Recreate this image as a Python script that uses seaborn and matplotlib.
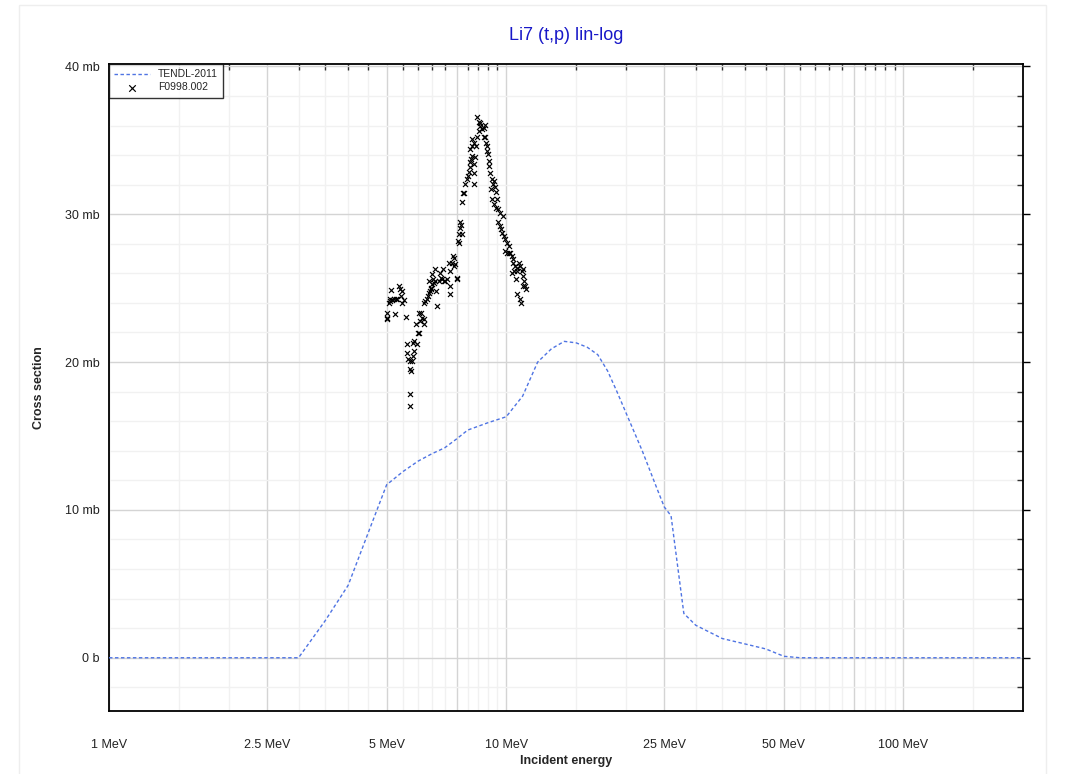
import numpy as np
import pandas as pd
import matplotlib
matplotlib.use("Agg")
import matplotlib.pyplot as plt
import matplotlib.ticker as mticker
from matplotlib.patches import Rectangle
import seaborn as sns

# ---------------- data ----------------
tendl_energy = [1, 1.5, 2, 2.5, 3, 3.5, 4, 4.5, 5, 5.5, 6, 6.5, 7, 7.5, 8, 9, 10,
                11, 12, 13, 14, 15, 16, 17, 18, 19, 20, 22, 24, 25, 26, 28, 30,
                35, 40, 45, 50, 55, 60, 70, 80, 90, 100, 150, 200]
tendl_xs = [0, 0, 0, 0, 0, 2.5, 4.9, 8.5, 11.7, 12.6, 13.3, 13.8, 14.2, 14.8, 15.4,
            15.9, 16.3, 17.7, 20.0, 20.9, 21.4, 21.3, 21.0, 20.5, 19.4, 18.0, 16.6,
            14.0, 11.4, 10.2, 9.6, 3.0, 2.2, 1.3, 0.93, 0.6, 0.1, 0, 0, 0, 0, 0, 0,
            0, 0]

exfor_energy = [
    5.00, 5.01, 5.02, 5.13, 5.09, 5.16, 5.22, 5.27, 5.32, 5.24, 5.37, 5.40, 5.42,
    5.47, 5.53, 5.46, 5.58, 5.10, 5.07,
    5.63, 5.63, 5.66, 5.71, 5.77, 5.74, 5.79, 5.82, 5.85, 5.82, 5.87, 5.97, 6.00,
    6.04, 5.93, 6.08, 6.03, 6.11, 6.14, 6.20, 6.22, 5.71, 5.74,
    6.20, 6.26, 6.32, 6.35, 6.38, 6.42, 6.45, 6.51, 6.57, 6.55, 6.63, 6.67, 6.38,
    6.47, 6.51, 6.63, 6.70, 6.80, 6.77, 6.86, 6.90, 6.96, 7.03, 6.93, 7.10, 7.17,
    7.24, 7.24, 7.24, 7.31, 7.38, 7.38, 7.45, 7.50, 7.50, 7.35, 7.55, 7.60, 7.60,
    7.67, 7.67, 7.74, 7.70,
    7.74, 7.79, 7.85, 7.89, 7.97, 8.02, 8.05, 8.09, 8.12, 8.15, 8.20, 8.12, 8.20,
    8.28, 8.28, 8.31, 8.36, 8.41, 8.44, 8.20, 8.28, 8.52, 8.57, 8.61, 8.69, 8.77,
    8.86, 8.44, 8.52,
    8.77, 8.86, 8.91, 8.94, 8.97, 9.02, 9.06, 9.07, 9.12, 9.20, 9.26, 9.33, 9.38,
    9.42, 9.47, 9.15, 9.20, 9.29, 9.43, 9.56, 9.66, 9.81, 9.56, 9.62, 9.70, 9.75,
    9.85, 9.94, 10.04, 10.14, 9.94, 10.04, 10.14, 10.23, 10.33, 10.39, 10.43,
    10.53, 10.63, 10.63, 10.74, 10.84, 10.94, 11.00, 11.05, 11.09, 11.15, 11.22,
    11.05, 10.59, 10.33, 10.63, 10.84, 10.88, 10.47]
exfor_xs = [
    22.89, 23.00, 23.34, 24.88, 24.13, 24.20, 24.24, 24.29, 24.24, 23.23, 25.15,
    24.92, 24.47, 24.81, 24.20, 24.02, 23.05, 24.24, 24.02,
    21.20, 20.63, 20.18, 19.50, 19.39, 20.07, 20.07, 20.41, 20.75, 21.31, 21.42,
    21.20, 21.99, 21.99, 22.55, 22.78, 23.34, 23.34, 23.00, 22.89, 22.55, 17.81,
    17.02,
    24.02, 24.13, 24.29, 24.47, 24.70, 24.81, 24.92, 25.26, 25.37, 25.60, 25.49,
    24.81, 25.49, 25.03, 25.94, 26.32, 23.79, 26.05, 25.49, 25.71, 25.60, 25.49,
    25.49, 26.28, 25.60, 26.73, 26.16, 25.15, 24.58, 26.73, 27.07, 26.50, 26.61,
    25.60, 25.71, 27.18, 28.19, 28.08, 28.65, 29.10, 29.44, 28.69, 29.28,
    30.84, 31.42, 31.42, 32.03, 32.37, 32.60, 32.87, 33.16, 33.50, 33.72, 33.91,
    34.40, 34.63, 34.85, 33.39, 32.82, 33.84, 34.63, 35.19, 35.08, 32.03, 35.64,
    35.98, 36.16, 35.76, 35.80, 36.03, 36.55, 36.21,
    35.19, 35.19, 34.85, 34.63, 34.29, 34.06, 33.61, 33.27, 32.82, 32.37, 32.03,
    32.26, 31.81, 31.47, 31.06, 31.69, 31.06, 30.68, 30.45, 30.34, 30.11, 29.89,
    29.44, 29.21, 28.98, 28.76, 28.53, 28.31, 28.08, 27.86, 27.52, 27.40, 27.36,
    27.40, 27.18, 26.95, 26.73, 26.50, 26.39, 26.16, 26.73, 26.50, 26.16, 26.28,
    25.82, 25.49, 25.15, 24.92, 25.15, 25.60, 26.05, 24.58, 24.24, 23.97, 26.16]

x_major_ticks = [1, 2.5, 5, 7.5, 10, 25, 50, 75, 100]
x_tick_labels = ["1 MeV", "2.5 MeV", "5 MeV", "", "10 MeV", "25 MeV", "50 MeV", "", "100 MeV"]
y_major_ticks = [0, 10, 20, 30, 40]
y_tick_labels = ["0 b", "10 mb", "20 mb", "30 mb", "40 mb"]

title_text = "Li7 (t,p) lin-log"
xlabel_text = "Incident energy"
ylabel_text = "Cross section"
label_tendl = "TENDL-2011"
label_exfor = "F0998.002"

# ---------------- figure ----------------
sns.set_theme(style="white")
plt.rcParams["font.family"] = ["Liberation Sans", "DejaVu Sans"]

W, H = 1071, 774
fig = plt.figure(figsize=(W / 100, H / 100), dpi=100)
ax = fig.add_axes([109 / W, 1 - 711 / H, (1023 - 109) / W, (711 - 64) / H])

# faint outer frame
fig.patches.append(Rectangle((19 / W, -0.01), (1046 - 19) / W, 1 - 5 / H + 0.01,
                             transform=fig.transFigure, fill=False,
                             edgecolor="#eeeeee", linewidth=1.0, zorder=0))

df_t = pd.DataFrame({"E": tendl_energy, "xs": tendl_xs})
df_x = pd.DataFrame({"E": exfor_energy, "xs": exfor_xs})

sns.lineplot(data=df_t, x="E", y="xs", ax=ax, color="#4f74e3", linewidth=1.0,
             linestyle=(0, (2.5, 1.8)), label=label_tendl, zorder=3, sort=False)
sns.scatterplot(data=df_x, x="E", y="xs", ax=ax, marker="x", color="black",
                s=13, linewidth=0.85, label=label_exfor, zorder=4)

ax.set_xscale("log")
ax.set_xlim(1, 200)
ax.set_ylim(-3.6, 40.16)

# x ticks
ax.xaxis.set_major_locator(mticker.FixedLocator(x_major_ticks))
ax.xaxis.set_major_formatter(mticker.FixedFormatter(x_tick_labels))
x_minor = list(np.arange(1.5, 10, 0.5)) + list(np.arange(15, 100, 5)) + [150]
x_minor = [v for v in x_minor if v not in x_major_ticks]
ax.xaxis.set_minor_locator(mticker.FixedLocator(x_minor))
ax.xaxis.set_minor_formatter(mticker.NullFormatter())

# y ticks
ax.yaxis.set_major_locator(mticker.FixedLocator(y_major_ticks))
ax.yaxis.set_major_formatter(mticker.FixedFormatter(y_tick_labels))
ax.yaxis.set_minor_locator(mticker.FixedLocator(
    [v for v in np.arange(-2, 41, 2) if v % 10 != 0]))

ax.grid(True, which="major", color="#d4d4d4", linewidth=1.0, zorder=0)
ax.grid(True, which="minor", color="#f1f1f1", linewidth=1.0, zorder=0)
ax.set_axisbelow(True)

ax.tick_params(axis="both", which="major", labelsize=9, colors="black",
               labelcolor="#222222", width=1, length=5)
ax.tick_params(axis="x", which="major", direction="inout", length=8, pad=16)
ax.tick_params(axis="y", which="major", direction="out", length=5, pad=2)
ax.tick_params(axis="both", which="minor", direction="in", length=4,
               width=1, colors="#333333")
ax.tick_params(axis="both", which="both", top=True, right=True,
               labeltop=False, labelright=False)
ax.tick_params(axis="x", which="major", top=False)

for sp in ax.spines.values():
    sp.set_color("black")
    sp.set_linewidth(1.3)
    sp.set_visible(True)

ax.set_xlabel(xlabel_text, fontsize=9, fontweight="bold", labelpad=3)
ax.set_ylabel(ylabel_text, fontsize=9, fontweight="bold", labelpad=14)
fig.text((109 + 1023) / 2 / W, 1 - 35 / H, title_text, ha="center", va="center",
         fontsize=13, color="#1818c8")

leg = ax.legend(loc="upper left", fontsize=7.5, frameon=True, fancybox=False,
                borderpad=0.5, labelspacing=0.3, handlelength=3.4,
                handletextpad=0.8, borderaxespad=0, markerscale=1.3)
leg.get_frame().set_edgecolor("black")
leg.get_frame().set_linewidth(1.0)

fig.savefig("out.png", dpi=100)
